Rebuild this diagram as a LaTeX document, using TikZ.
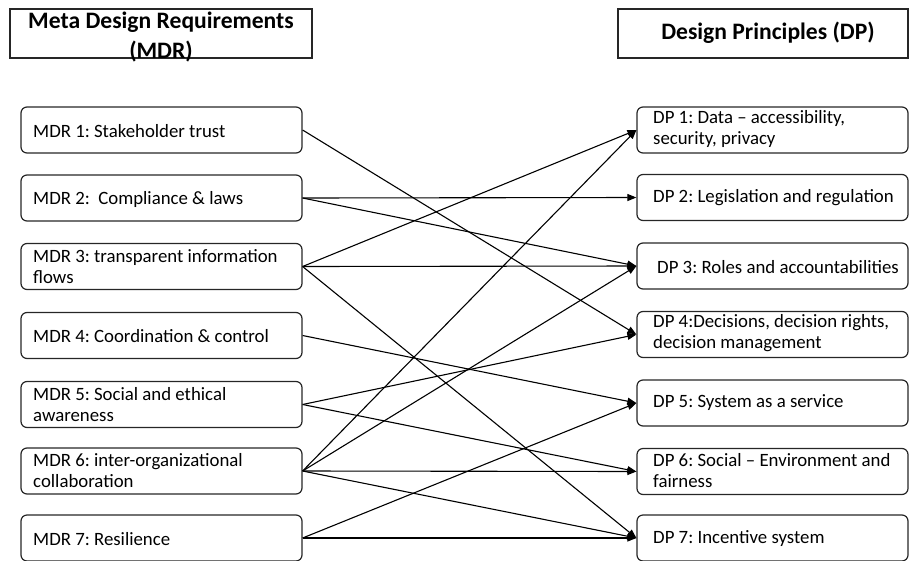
\documentclass[tikz,border=0pt]{standalone}
\usepackage{fontspec}
\setmainfont{Carlito}
\usetikzlibrary{arrows.meta}
\begin{document}
\frenchspacing
\begin{tikzpicture}[x=1pt,y=-1pt,
 box/.style={draw=black!85, line width=1.2pt, rounded corners=6pt, minimum height=46pt, inner sep=0pt},
 lbox/.style={box, minimum width=281pt},
 rbox/.style={box, minimum width=271pt},
 btxt/.style={font=\fontsize{18.8}{21}\selectfont, align=left, anchor=west, inner sep=0pt},
 hdr/.style={draw=black!85, line width=1.2pt, minimum height=49pt, inner sep=0pt},
 htxt/.style={font=\bfseries\fontsize{23.6}{30}\selectfont, align=center, inner sep=0pt},
 conn/.style={line width=1.1pt, -{Triangle[length=9pt,width=7pt]}}]
\useasboundingbox (0,0) rectangle (910,560);
% headers
\node[hdr, minimum width=302pt] (hl) at (161,33.5) {};
\node[htxt] (hlt) at (161,37) {Meta Design Requirements\\(MDR)};
\node[hdr, minimum width=290pt] (hr) at (763,33.5) {};
\node[htxt] (hrt) at (768,33) {Design Principles (DP)};
% left boxes
\node[lbox] (m1) at (161.5,130) {};
\node[lbox] (m2) at (161.5,198) {};
\node[lbox] (m3) at (161.5,266.5) {};
\node[lbox] (m4) at (161.5,335.5) {};
\node[lbox] (m5) at (161.5,404.5) {};
\node[lbox] (m6) at (161.5,471) {};
\node[lbox] (m7) at (161.5,538) {};
\node[btxt] (m1t) at (33,131) {MDR 1: Stakeholder trust};
\node[btxt] (m2t) at (33,199) {MDR 2:\ \ Compliance \& laws};
\node[btxt] (m3t) at (33,267) {MDR 3: transparent information\\flows};
\node[btxt] (m4t) at (33,336) {MDR 4: Coordination \& control};
\node[btxt] (m5t) at (33,404.5) {MDR 5: Social and ethical\\awareness};
\node[btxt] (m6t) at (33,471) {MDR 6: inter-organizational\\collaboration};
\node[btxt] (m7t) at (33,539) {MDR 7: Resilience};
% right boxes
\node[rbox] (d1) at (772.5,130) {};
\node[rbox] (d2) at (772.5,197.5) {};
\node[rbox] (d3) at (772.5,266) {};
\node[rbox] (d4) at (772.5,334.5) {};
\node[rbox] (d5) at (772.5,403) {};
\node[rbox] (d6) at (772.5,471.5) {};
\node[rbox] (d7) at (772.5,538) {};
\node[btxt] (d1t) at (653,129) {DP 1: Data – accessibility,\\security, privacy};
\node[btxt] (d2t) at (653,198) {DP 2: Legislation and regulation};
\node[btxt] (d3t) at (657,267) {DP 3: Roles and accountabilities};
\node[btxt] (d4t) at (653,333.5) {DP 4:Decisions, decision rights,\\decision management};
\node[btxt] (d5t) at (653,403) {DP 5: System as a service};
\node[btxt] (d6t) at (653,471) {DP 6: Social – Environment and\\fairness};
\node[btxt] (d7t) at (653,539) {DP 7: Incentive system};
% connectors
\draw[conn] (m1.east) -- (d4.west);
\draw[conn] (m2.east) -- (d2.west);
\draw[conn] (m2.east) -- (d3.west);
\draw[conn] (m3.east) -- (d1.west);
\draw[conn] (m3.east) -- (d3.west);
\draw[conn] (m3.east) -- (d7.west);
\draw[conn] (m4.east) -- (d5.west);
\draw[conn] (m5.east) -- (d4.west);
\draw[conn] (m5.east) -- (d6.west);
\draw[conn] (m6.east) -- (d1.west);
\draw[conn] (m6.east) -- (d3.west);
\draw[conn] (m6.east) -- (d6.west);
\draw[conn] (m6.east) -- (d7.west);
\draw[conn] (m7.east) -- (d5.west);
\draw[conn] (m7.east) -- (d7.west);
\end{tikzpicture}
\end{document}
